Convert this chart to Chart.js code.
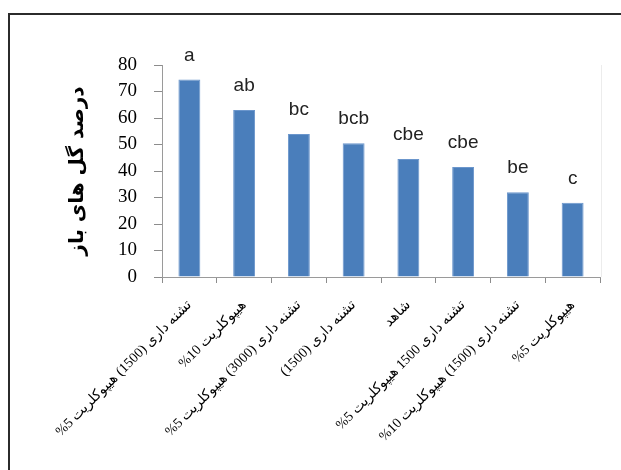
<!DOCTYPE html>
<html>
<head>
<meta charset="utf-8">
<script src="https://cdn.jsdelivr.net/npm/chart.js@4.4.1/dist/chart.umd.min.js"></script>
<style>
  html, body { margin: 0; padding: 0; background: #fff; }
  #wrap { position: relative; width: 621px; height: 470px; }
</style>
</head>
<body>
<div id="wrap"><canvas id="c" width="621" height="470" dir="rtl"></canvas></div>
<script>
// Treatments (x categories)
const categories = [
  'تشنه داری (1500) هیپوکلریت 5%',
  'هیپوکلریت 10%',
  'تشنه داری (3000) هیپوکلریت 5%',
  'تشنه داری (1500)',
  'شاهد',
  'تشنه داری 1500 هیپوکلریت 5%',
  'تشنه داری (1500) هیپوکلریت 10%',
  'هیپوکلریت 5%'
];
// Percentage of open flowers
const openFlowers = [74.5, 63, 54, 50.5, 44.5, 41.5, 32, 28];
// Mean-comparison letters shown above each bar
const groupLetters = ['a', 'ab', 'bc', 'bcb', 'cbe', 'cbe', 'be', 'c'];
// Y axis range
const yTicks = { min: 0, max: 80, step: 10 };
const yTitle = 'درصد گل های باز';

// Outer frame, white background and faint plot-area edge
const framePlugin = {
  id: 'frame',
  beforeDraw(chart) {
    const ctx = chart.ctx;
    ctx.save();
    ctx.fillStyle = '#fff';
    ctx.fillRect(0, 0, chart.width, chart.height);
    ctx.strokeStyle = '#2b2b2b';
    ctx.lineWidth = 2;
    ctx.strokeRect(9, 14, 800, 800);
    const a = chart.chartArea;
    ctx.strokeStyle = '#ececec';
    ctx.lineWidth = 1;
    ctx.beginPath();
    ctx.moveTo(Math.round(a.right) + 1.5, a.top);
    ctx.lineTo(Math.round(a.right) + 1.5, a.bottom);
    ctx.stroke();
    ctx.restore();
  }
};

// Letters drawn above the bars
const letterPlugin = {
  id: 'letters',
  afterDatasetsDraw(chart) {
    const ctx = chart.ctx;
    const meta = chart.getDatasetMeta(0);
    ctx.save();
    ctx.direction = 'ltr';
    ctx.font = '19px "Liberation Sans", Arial, sans-serif';
    ctx.fillStyle = '#222';
    ctx.textAlign = 'center';
    ctx.textBaseline = 'alphabetic';
    meta.data.forEach((bar, i) => {
      ctx.fillText(groupLetters[i], bar.x, bar.y - 19);
    });
    ctx.restore();
  }
};

new Chart(document.getElementById('c'), {
  type: 'bar',
  data: {
    labels: categories,
    datasets: [{
      data: openFlowers,
      backgroundColor: '#4a7ebb',
      borderColor: '#6b96cc',
      borderWidth: 1,
      categoryPercentage: 1,
      barPercentage: 0.4
    }]
  },
  options: {
    responsive: false,
    animation: false,
    devicePixelRatio: 1,
    layout: { padding: { left: 0, top: 65, right: 21, bottom: 0 } },
    plugins: { legend: { display: false }, tooltip: { enabled: false } },
    scales: {
      x: {
        grid: { display: true, drawOnChartArea: false, offset: true, tickLength: 6, color: '#8c8c8c' },
        border: { display: true, color: '#9a9a9a', width: 1 },
        ticks: {
          autoSkip: false,
          minRotation: 45,
          maxRotation: 45,
          padding: 14,
          color: '#000',
          font: { family: '"Liberation Serif", "DejaVu Sans", serif', size: 14 }
        },
        afterFit(scale) { scale.height = 193; }
      },
      y: {
        min: yTicks.min,
        max: yTicks.max,
        grid: { display: true, drawOnChartArea: false, tickLength: 8, color: '#8c8c8c' },
        border: { display: true, color: '#9a9a9a', width: 1 },
        ticks: {
          stepSize: yTicks.step,
          padding: 17,
          color: '#000',
          font: { family: '"Liberation Serif", "Times New Roman", serif', size: 19 }
        },
        title: {
          display: true,
          text: yTitle,
          color: '#000',
          padding: { top: 66, bottom: 0 },
          font: { family: '"DejaVu Sans", sans-serif', size: 20, weight: 'bold' }
        },
        afterFit(scale) { scale.width = 162; }
      }
    }
  },
  plugins: [framePlugin, letterPlugin]
});
</script>
</body>
</html>
